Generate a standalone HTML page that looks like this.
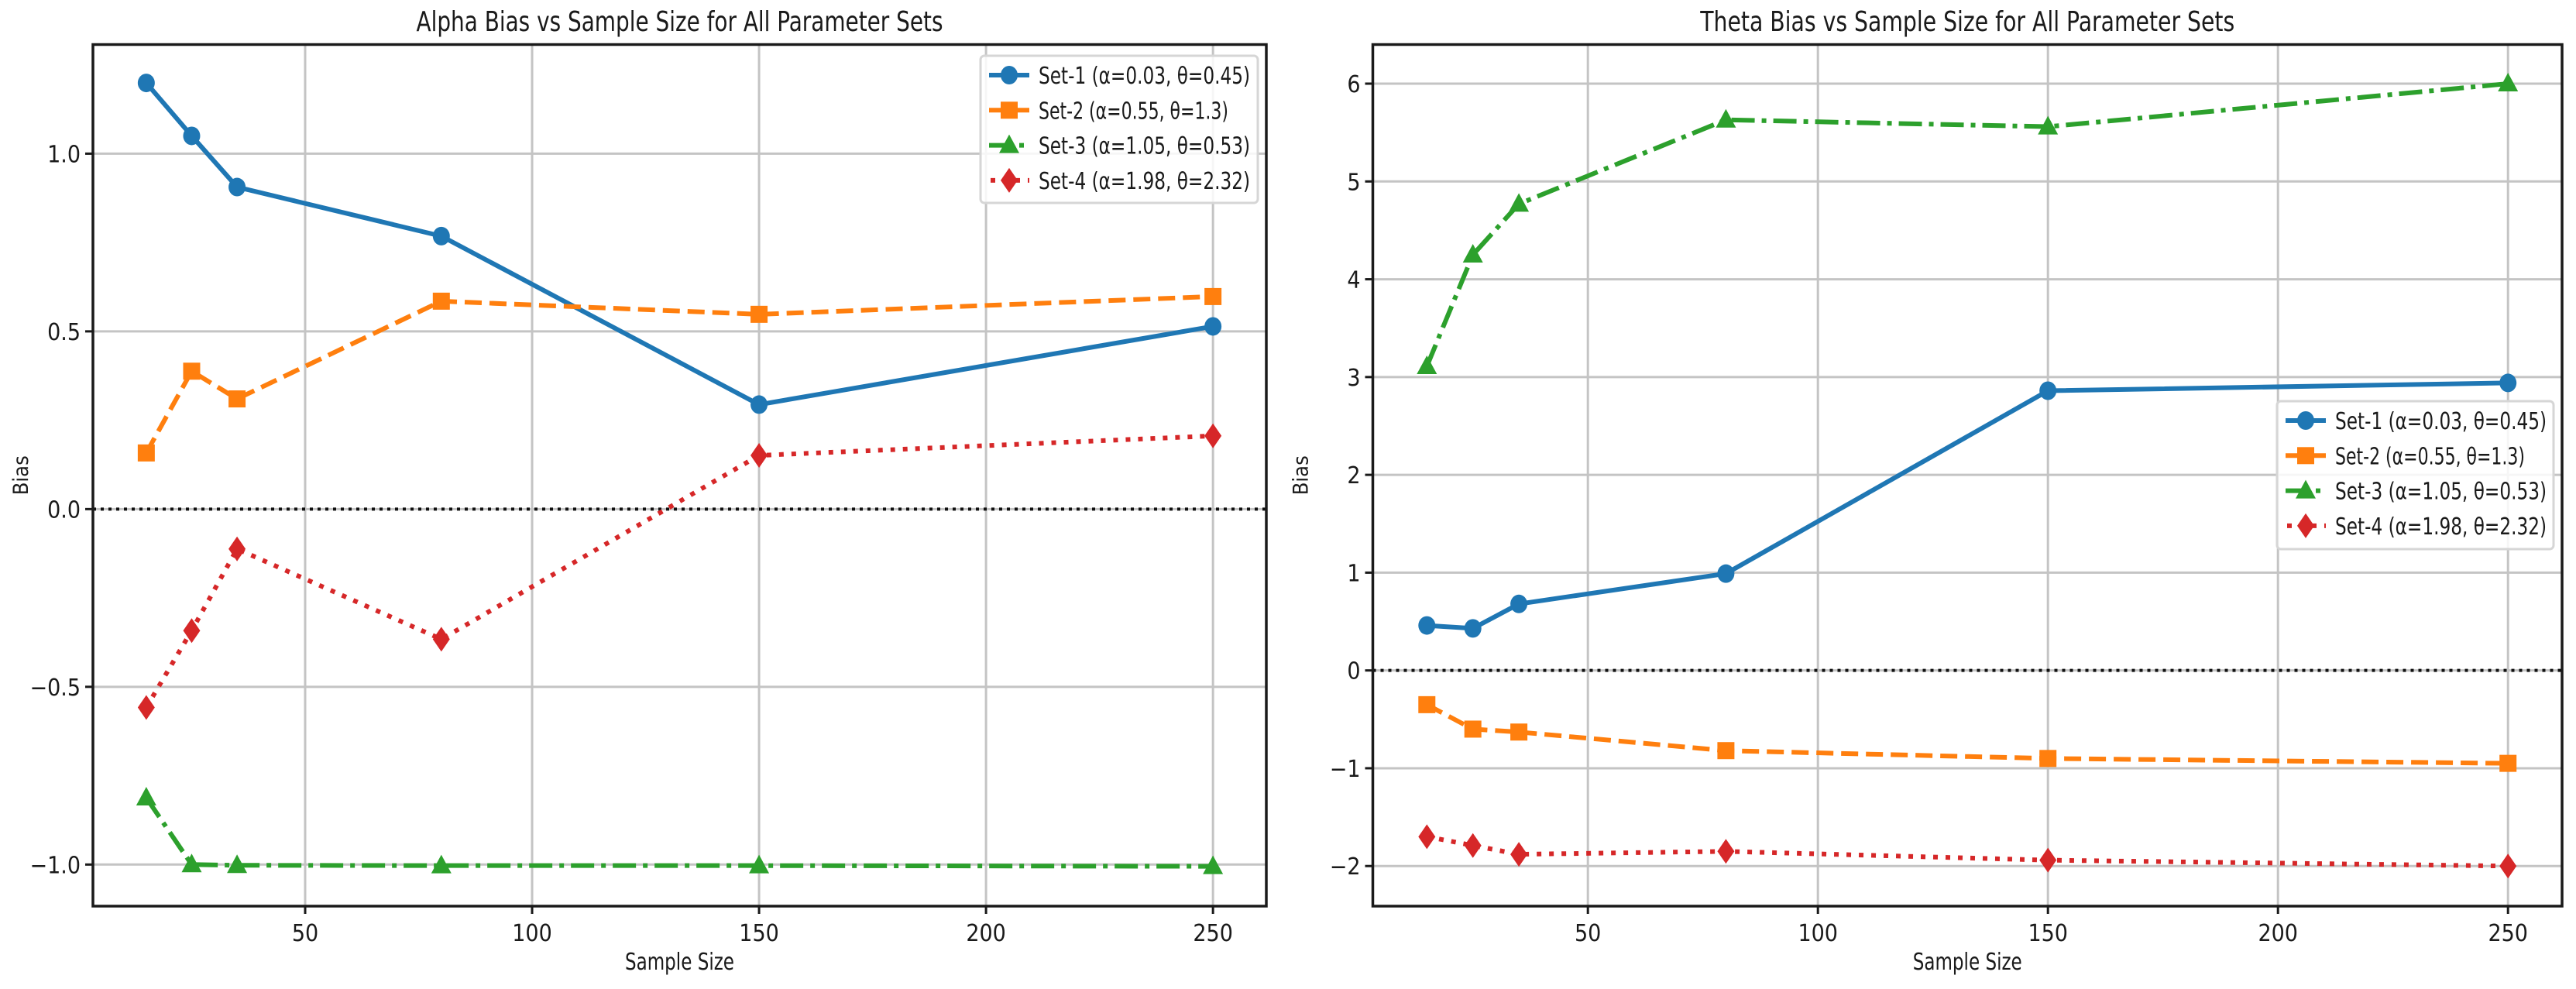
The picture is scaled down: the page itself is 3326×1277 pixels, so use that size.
<!DOCTYPE html>
<html><head><meta charset="utf-8">
<style>
html,body{margin:0;padding:0;background:#fff;}
svg{display:block;}
text{font-family:"DejaVu Sans Condensed","DejaVu Sans","Liberation Sans",sans-serif;fill:#1a1a1a;}
</style></head>
<body>
<svg id="fig" xmlns="http://www.w3.org/2000/svg" width="3326" height="1277" viewBox="0 0 3326 1277"></svg>
<script>
const sampleSizes = [15, 25, 35, 80, 150, 250];
const seriesNames = ["Set-1 (α=0.03, θ=0.45)", "Set-2 (α=0.55, θ=1.3)", "Set-3 (α=1.05, θ=0.53)", "Set-4 (α=1.98, θ=2.32)"];
const alphaSet1 = [1.199, 1.05, 0.906, 0.768, 0.294, 0.514];
const alphaSet2 = [0.158, 0.388, 0.31, 0.585, 0.548, 0.598];
const alphaSet3 = [-0.812, -1.0, -1.002, -1.003, -1.003, -1.005];
const alphaSet4 = [-0.558, -0.342, -0.112, -0.366, 0.151, 0.206];
const thetaSet1 = [0.46, 0.43, 0.68, 0.99, 2.86, 2.94];
const thetaSet2 = [-0.35, -0.60, -0.63, -0.82, -0.90, -0.95];
const thetaSet3 = [3.11, 4.25, 4.77, 5.63, 5.56, 6.0];
const thetaSet4 = [-1.70, -1.79, -1.88, -1.85, -1.94, -2.0];
const xTicks = [50, 100, 150, 200, 250];
const alphaYTicks = [-1.0, -0.5, 0.0, 0.5, 1.0];
const alphaYTickLabels = ["−1.0", "−0.5", "0.0", "0.5", "1.0"];
const thetaYTicks = [-2, -1, 0, 1, 2, 3, 4, 5, 6];
const thetaYTickLabels = ["−2", "−1", "0", "1", "2", "3", "4", "5", "6"];

const NS = "http://www.w3.org/2000/svg";
const svg = document.getElementById('fig');
function el(tag, attrs, parent) {
  const e = document.createElementNS(NS, tag);
  for (const k in attrs) e.setAttribute(k, attrs[k]);
  (parent || svg).appendChild(e);
  return e;
}
const colors = ["#1f77b4", "#ff7f0e", "#2ca02c", "#d62728"];
const dashes = ["", "22 10", "30 9 6 9", "6 10"];
const markers = ["circle", "square", "triangle", "diamond"];

function drawMarker(g, type, x, y, color) {
  let m;
  if (type === "circle") m = el('ellipse', {cx: x, cy: y, rx: 11, ry: 12, fill: color}, g);
  else if (type === "square") m = el('rect', {x: x - 11, y: y - 11, width: 22, height: 22, fill: color}, g);
  else if (type === "triangle") m = el('polygon', {points: `${x},${y-14} ${x-13},${y+10} ${x+13},${y+10}`, fill: color}, g);
  else m = el('polygon', {points: `${x},${y-16} ${x-11},${y} ${x},${y+16} ${x+11},${y}`, fill: color}, g);
  return m;
}

function drawChart(cfg) {
  const {L, R, T, B, xMin, xMax, yMin, yMax, yTicks, yTickLabels, series, title, titleLen, legend, name} = cfg;
  const gx = v => L + (v - xMin) / (xMax - xMin) * (R - L);
  const gy = v => B - (v - yMin) / (yMax - yMin) * (B - T);
  const g = el('g', {});
  
  
  // grid
  const grid = el('g', {}, g);
  
  
  xTicks.forEach(t => el('line', {x1: gx(t), x2: gx(t), y1: T, y2: B, stroke: '#c4c4c4', 'stroke-width': 3}, grid));
  yTicks.forEach(t => el('line', {x1: L, x2: R, y1: gy(t), y2: gy(t), stroke: '#c4c4c4', 'stroke-width': 3}, grid));
  // zero line
  const z = el('line', {x1: L, x2: R, y1: gy(0), y2: gy(0), stroke: '#111', 'stroke-width': 4, 'stroke-dasharray': '4 6'}, g);
  
  
  // series
  series.forEach((vals, i) => {
    const sg = el('g', {}, g);
    
    
    const pts = vals.map((v, j) => gx(sampleSizes[j]) + ',' + gy(v)).join(' ');
    const pl = el('polyline', {points: pts, fill: 'none', stroke: colors[i], 'stroke-width': 6, 'stroke-linejoin': 'round'}, sg);
    if (dashes[i]) pl.setAttribute('stroke-dasharray', dashes[i]);
    
    
    vals.forEach((v, j) => {
      const m = drawMarker(sg, markers[i], gx(sampleSizes[j]), gy(v), colors[i]);
      
      
    });
  });
  // spines
  const frame = el('rect', {x: L, y: T, width: R - L, height: B - T, fill: 'none', stroke: '#1a1a1a', 'stroke-width': 3.5}, g);
  
  
  // x ticks
  const xt = el('g', {}, g);
  
  
  xTicks.forEach(t => {
    el('line', {x1: gx(t), x2: gx(t), y1: B, y2: B + 10, stroke: '#1a1a1a', 'stroke-width': 3}, xt);
    const tx = el('text', {x: gx(t), y: 1215, 'font-size': 30, 'text-anchor': 'middle'}, xt);
    tx.textContent = t;
    
    
  });
  const yt = el('g', {}, g);
  
  
  yTicks.forEach((t, k) => {
    el('line', {x1: L - 10, x2: L, y1: gy(t), y2: gy(t), stroke: '#1a1a1a', 'stroke-width': 3}, yt);
    const tx = el('text', {x: L - 16, y: gy(t) + 11, 'font-size': 30, 'text-anchor': 'end'}, yt);
    tx.textContent = yTickLabels[k];
    
    
  });
  // title
  const tt = el('text', {x: (L + R) / 2, y: 40, 'font-size': 36, 'text-anchor': 'middle', textLength: titleLen, lengthAdjust: 'spacingAndGlyphs'}, g);
  tt.textContent = title;
  
  
  // x label
  const xl = el('text', {x: (L + R) / 2, y: 1252, 'font-size': 30, 'text-anchor': 'middle', textLength: 141, lengthAdjust: 'spacingAndGlyphs'}, g);
  xl.textContent = 'Sample Size';
  
  
  // y label
  const yl = el('text', {x: 0, y: 0, 'font-size': 27, 'font-family': 'DejaVu Sans, sans-serif', 'text-anchor': 'middle', transform: `translate(${L - 84},${(T + B) / 2}) rotate(-90)`}, g);
  yl.textContent = 'Bias';
  
  
  // legend
  const lg = el('g', {}, g);
  
  
  el('rect', {x: legend.x, y: legend.y, width: legend.w, height: legend.h, rx: 5, fill: 'rgba(255,255,255,0.85)', stroke: '#d6d6d6', 'stroke-width': 3}, lg);
  seriesNames.forEach((nm, i) => {
    const cy = legend.y + 25 + i * 45.3;
    const hx = legend.x + 37;
    const e = el('g', {}, lg);
    
    
    const ln = el('line', {x1: hx - 26, x2: hx + 26, y1: cy, y2: cy, stroke: colors[i], 'stroke-width': 6}, e);
    if (dashes[i]) ln.setAttribute('stroke-dasharray', dashes[i]);
    if (i === 3) { ln.setAttribute('stroke-dasharray', '6 10'); ln.setAttribute('x1', hx - 24); }
    drawMarker(e, markers[i], hx, cy, colors[i]);
    const tx = el('text', {x: legend.x + 75, y: cy + 11, 'font-size': 30, textLength: [273, 245, 273, 273][i], lengthAdjust: 'spacingAndGlyphs'}, e);
    tx.textContent = nm;
  });
}

drawChart({name: 'alpha-bias-chart', L: 120, R: 1635, T: 57.5, B: 1170, xMin: 3.25, xMax: 261.75,
  yMin: -1.117, yMax: 1.307, yTicks: alphaYTicks, yTickLabels: alphaYTickLabels,
  series: [alphaSet1, alphaSet2, alphaSet3, alphaSet4],
  title: 'Alpha Bias vs Sample Size for All Parameter Sets', titleLen: 680,
  legend: {x: 1266, y: 72, w: 358, h: 190}});
drawChart({name: 'theta-bias-chart', L: 1772.5, R: 3308, T: 57.5, B: 1170, xMin: 3.25, xMax: 261.75,
  yMin: -2.41, yMax: 6.40, yTicks: thetaYTicks, yTickLabels: thetaYTickLabels,
  series: [thetaSet1, thetaSet2, thetaSet3, thetaSet4],
  title: 'Theta Bias vs Sample Size for All Parameter Sets', titleLen: 690,
  legend: {x: 2940, y: 518, w: 357, h: 191}});
</script>
</body></html>
